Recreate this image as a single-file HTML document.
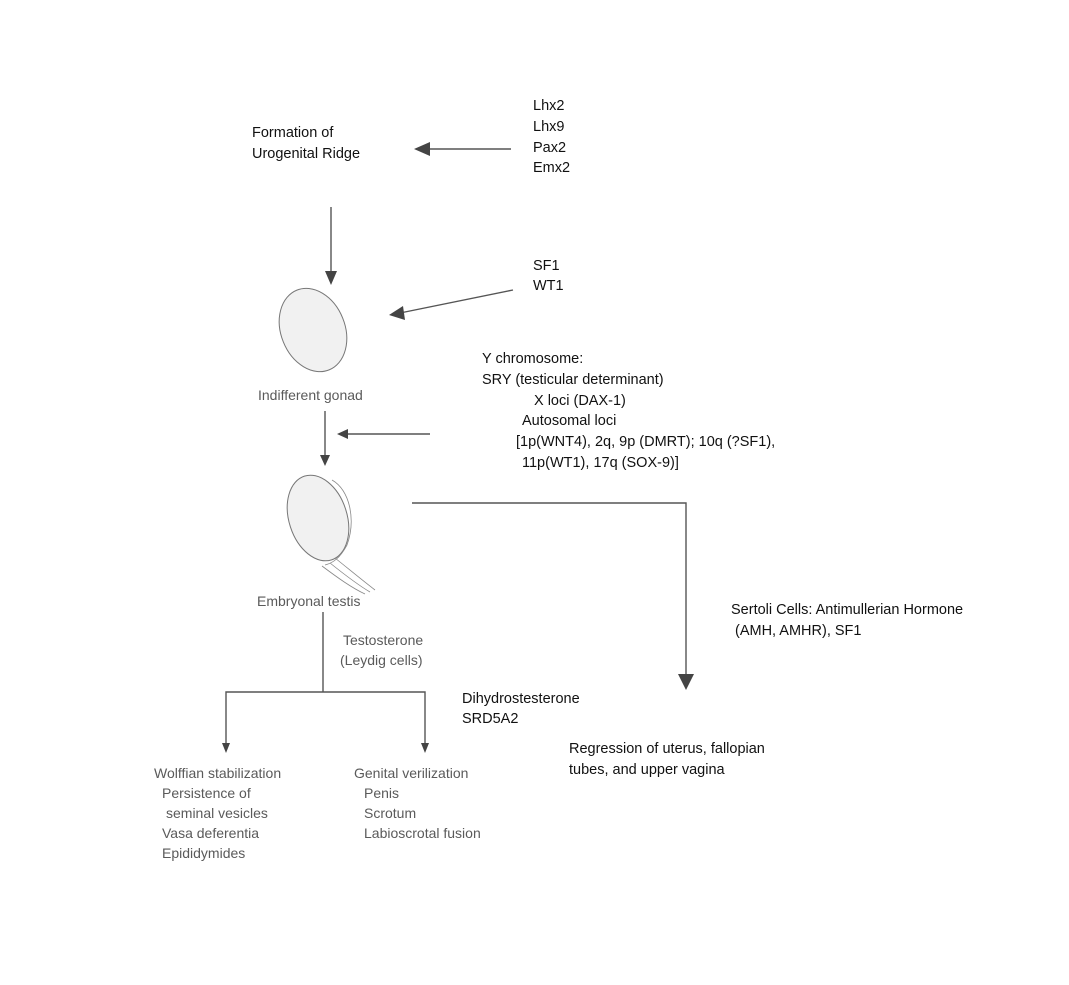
<!DOCTYPE html>
<html><head><meta charset="utf-8"><style>
html,body{margin:0;padding:0;background:#fff}
svg{display:block}
text{font-family:"Liberation Sans",Arial,sans-serif;font-size:14.5px;fill:#111}
.l{fill:#5a5a5a;font-size:14px}
</style></head><body>
<svg width="1069" height="985" viewBox="0 0 1069 985" xmlns="http://www.w3.org/2000/svg">
<g stroke="#555" stroke-width="1.4" fill="none">
<line x1="511" y1="149" x2="425" y2="149"/>
<line x1="331" y1="207" x2="331" y2="276"/>
<line x1="513" y1="290" x2="400" y2="313"/>
<line x1="325" y1="411" x2="325" y2="458"/>
<line x1="430" y1="434" x2="345" y2="434"/>
<polyline points="412,503 686,503 686,676"/>
<polyline points="323,612 323,692"/>
<polyline points="226,745 226,692 425,692 425,745"/>
</g>
<g fill="#444">
<polygon points="414,149 430,142 430,156"/>
<polygon points="331,285 325,271 337,271"/>
<polygon points="389,315 403,306 405,320"/>
<polygon points="325,466 320,455 330,455"/>
<polygon points="337,434 348,429 348,439"/>
<polygon points="686,690 678,674 694,674"/>
<polygon points="226,753 222,743 230,743"/>
<polygon points="425,753 421,743 429,743"/>
</g>
<g stroke="#777" stroke-width="1" fill="#f1f1f1">
<ellipse cx="313" cy="330" rx="32" ry="43" transform="rotate(-22 313 330)"/>
<ellipse cx="318" cy="518" rx="29" ry="44" transform="rotate(-18 318 518)"/>
</g>
<g stroke="#888" stroke-width="0.8" fill="none">
<path d="M332 480 C350 490 356 520 347 545 C340 558 333 563 325 565"/>
<path d="M335 558 C350 570 362 580 375 590"/>
<path d="M330 563 C345 575 358 585 370 592"/>
<path d="M322 566 C338 578 352 588 365 594"/>
</g>
<text x="533" y="110">Lhx2</text>
<text x="533" y="131">Lhx9</text>
<text x="533" y="152">Pax2</text>
<text x="533" y="172">Emx2</text>
<text x="252" y="137">Formation of</text>
<text x="252" y="158">Urogenital Ridge</text>
<text x="533" y="270">SF1</text>
<text x="533" y="290">WT1</text>
<text class="l" x="258" y="400">Indifferent gonad</text>
<text x="482" y="363">Y chromosome:</text>
<text x="482" y="384">SRY (testicular determinant)</text>
<text x="534" y="405">X loci (DAX-1)</text>
<text x="522" y="425">Autosomal loci</text>
<text x="516" y="446">[1p(WNT4), 2q, 9p (DMRT); 10q (?SF1),</text>
<text x="522" y="467">11p(WT1), 17q (SOX-9)]</text>
<text class="l" x="257" y="606">Embryonal testis</text>
<text class="l" x="343" y="645">Testosterone</text>
<text class="l" x="340" y="665">(Leydig cells)</text>
<text x="731" y="614">Sertoli Cells: Antimullerian Hormone</text>
<text x="735" y="635">(AMH, AMHR), SF1</text>
<text x="462" y="703">Dihydrostesterone</text>
<text x="462" y="723">SRD5A2</text>
<text x="569" y="753">Regression of uterus, fallopian</text>
<text x="569" y="774">tubes, and upper vagina</text>
<text class="l" x="154" y="778">Wolffian stabilization</text>
<text class="l" x="162" y="798">Persistence of</text>
<text class="l" x="166" y="818">seminal vesicles</text>
<text class="l" x="162" y="838">Vasa deferentia</text>
<text class="l" x="162" y="858">Epididymides</text>
<text class="l" x="354" y="778">Genital verilization</text>
<text class="l" x="364" y="798">Penis</text>
<text class="l" x="364" y="818">Scrotum</text>
<text class="l" x="364" y="838">Labioscrotal fusion</text>
</svg>
</body></html>
